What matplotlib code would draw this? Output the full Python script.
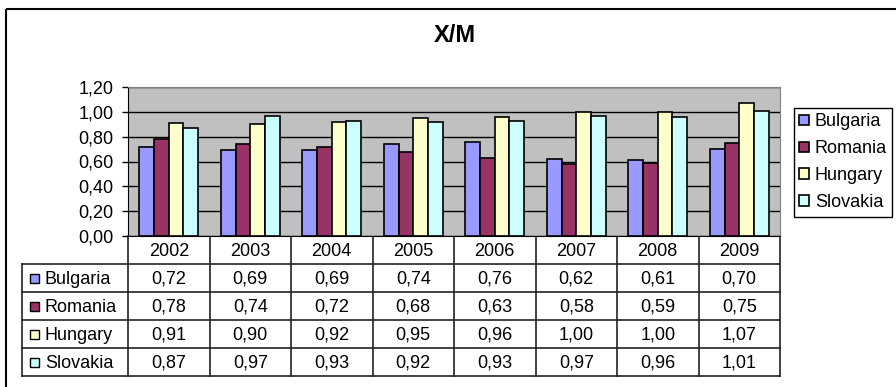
import matplotlib
matplotlib.use("Agg")
from matplotlib import pyplot as plt
from matplotlib.patches import Rectangle

plt.rcParams['font.family'] = ['Liberation Sans', 'DejaVu Sans']

years = ["2002", "2003", "2004", "2005", "2006", "2007", "2008", "2009"]
countries = ["Bulgaria", "Romania", "Hungary", "Slovakia"]
bulgaria = [0.72, 0.69, 0.69, 0.74, 0.76, 0.62, 0.61, 0.70]
romania = [0.78, 0.74, 0.72, 0.68, 0.63, 0.58, 0.59, 0.75]
hungary = [0.91, 0.90, 0.92, 0.95, 0.96, 1.00, 1.00, 1.07]
slovakia = [0.87, 0.97, 0.93, 0.92, 0.93, 0.97, 0.96, 1.01]
y_ticks = [0.0, 0.2, 0.4, 0.6, 0.8, 1.0, 1.2]

series = [bulgaria, romania, hungary, slovakia]
colors = ["#9999FF", "#993366", "#FFFFCC", "#CCFFFF"]
FS = 13

W, H = 896, 387
fig = plt.figure(figsize=(W / 100, H / 100), dpi=100)
fig.patch.set_facecolor("white")


def fx(px):
    return px / W


def fy(py):
    return 1 - py / H


# plot area in pixels
left, right, top, bottom = 128, 780, 87, 236
ax = fig.add_axes([fx(left), fy(bottom), fx(right - left), (bottom - top) / H])
ax.set_zorder(2)
ax.set_facecolor("#C0C0C0")

n = len(years)
width = 0.18
bars = []
for j, (vals, c) in enumerate(zip(series, colors)):
    xs = [i + 0.5 + (j - 1.5) * width for i in range(n)]
    b = ax.bar(xs, vals, width=width, color=c, edgecolor="black",
               linewidth=1.2, zorder=3, label=countries[j])
    bars.append(b)

ax.set_xlim(0, n)
ax.set_ylim(0, 1.2)
ax.set_yticks(y_ticks)
ax.set_yticklabels([f"{v:.2f}".replace(".", ",") for v in y_ticks])
ax.set_xticks([])
ax.yaxis.grid(True, color="black", linewidth=1)
ax.set_axisbelow(True)
ax.tick_params(axis="y", length=4.5, width=1, pad=6, labelsize=FS)
for side in ["top", "right"]:
    ax.spines[side].set_color("#808080")
for side in ["left", "bottom"]:
    ax.spines[side].set_color("black")

# overlay for border, title and data table
ov = fig.add_axes([0, 0, 1, 1])
ov.set_zorder(1)
ov.set_xlim(0, W)
ov.set_ylim(H, 0)
ov.axis("off")

ov.add_patch(Rectangle((6, 9), 1000, 1000, fill=False, edgecolor="black", linewidth=1.5))
ov.text(455, 36, "X/M", ha="center", va="center", fontsize=17, fontweight="bold")

col_w = (right - left) / n
row_h = 28
head_bottom = 264
tab_left = 22
line_kw = dict(color="#222222", linewidth=1.2)

# year header
for k in range(n + 1):
    x = left + k * col_w
    ov.plot([x, x], [bottom, head_bottom + 4 * row_h], **line_kw)
for i, yr in enumerate(years):
    ov.text(left + (i + 0.5) * col_w, (bottom + head_bottom) / 2 + 1, yr,
            ha="center", va="center", fontsize=FS)

# data rows
ov.plot([tab_left, tab_left], [head_bottom, head_bottom + 4 * row_h], **line_kw)
for r in range(5):
    y = head_bottom + r * row_h
    ov.plot([tab_left, right], [y, y], **line_kw)

for r, (name, vals, c) in enumerate(zip(countries, series, colors)):
    yc = head_bottom + (r + 0.5) * row_h
    ov.add_patch(Rectangle((29.5, yc - 4), 9, 9, facecolor=c, edgecolor="black", linewidth=1))
    ov.text(45, yc + 1, name, ha="left", va="center", fontsize=FS)
    for i, v in enumerate(vals):
        ov.text(left + (i + 0.5) * col_w, yc + 1, f"{v:.2f}".replace(".", ","),
                ha="center", va="center", fontsize=FS)

leg = fig.legend(handles=bars, labels=countries, loc="upper left",
                 bbox_to_anchor=(fx(794), fy(108)), bbox_transform=fig.transFigure,
                 borderaxespad=0, fancybox=False, edgecolor="black", framealpha=1,
                 fontsize=FS, handlelength=0.55, handleheight=0.55, handletextpad=0.3,
                 labelspacing=0.55, borderpad=0.3)
leg.get_frame().set_linewidth(1)
leg.set_zorder(3)

fig.savefig("out.png", dpi=100)
